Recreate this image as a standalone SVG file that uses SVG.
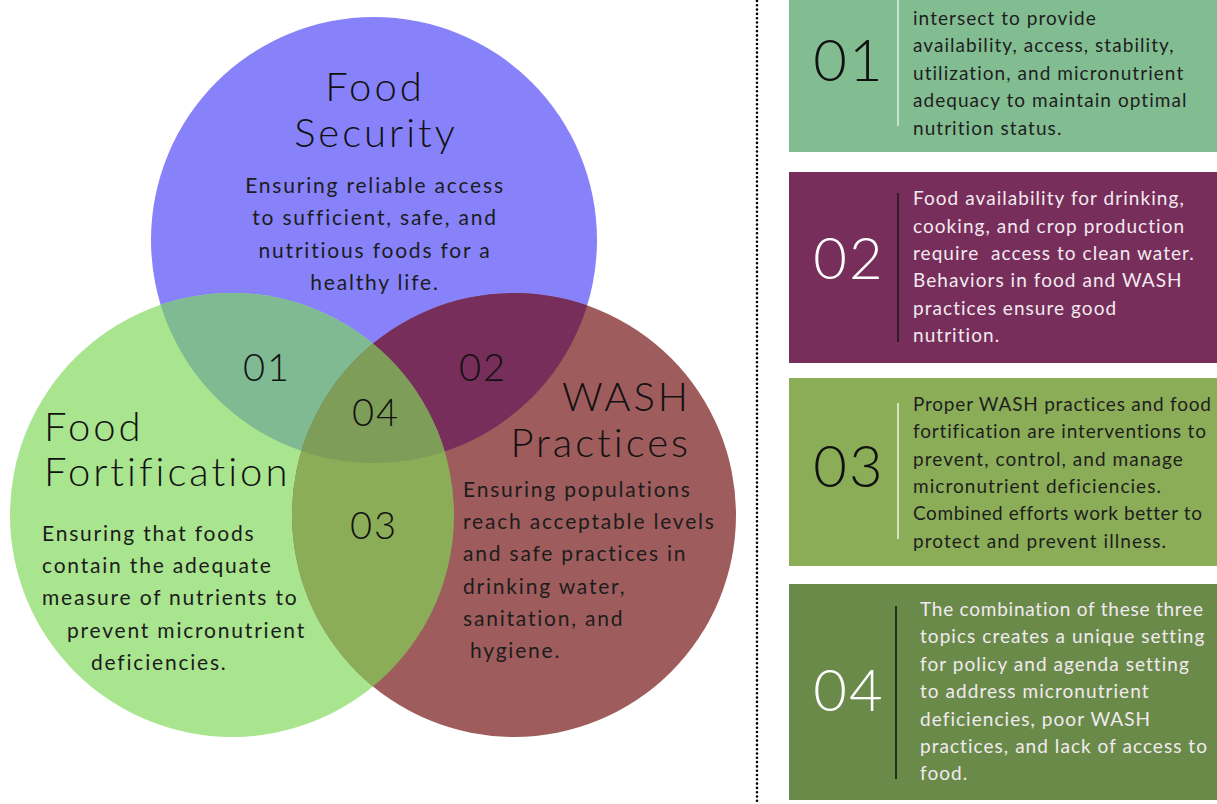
<svg xmlns="http://www.w3.org/2000/svg" width="1217" height="804" viewBox="0 0 1217 804">
  <style>
    .title { font-family: Lato, "Noto Sans", sans-serif; font-weight: 300; font-size: 40px; letter-spacing: 3px; fill: #111; }
    .body { font-family: Lato, "Noto Sans", sans-serif; font-size: 21px; letter-spacing: 1.8px; fill: #1c1c1c; }
    .num { font-family: Lato, "Noto Sans", sans-serif; font-weight: 300; font-size: 38px; letter-spacing: 2px; fill: #111; }
    .pnum { font-family: Lato, "Noto Sans", sans-serif; font-weight: 300; font-size: 58px; letter-spacing: 2px; }
    .ptext { font-family: Lato, "Noto Sans", sans-serif; font-size: 19px; letter-spacing: 1.05px; }
    .dark { fill: #1e1e1e; }
    .light { fill: #f2eaf0; }
  </style>
  <defs>
    <clipPath id="clipBlue"><circle cx="374" cy="240" r="223"/></clipPath>
    <clipPath id="clipGreen"><circle cx="232" cy="515" r="222"/></clipPath>
    <clipPath id="clipRed"><circle cx="514" cy="515" r="222"/></clipPath>
  </defs>
  <rect width="1217" height="804" fill="#ffffff"/>

  <!-- Venn diagram -->
  <g id="venn">
    <circle cx="374" cy="240" r="223" fill="#8782fa"/>
    <circle cx="232" cy="515" r="222" fill="#a9e48f"/>
    <circle cx="514" cy="515" r="222" fill="#9e5c5c"/>
    <!-- pairwise overlaps -->
    <g clip-path="url(#clipBlue)">
      <circle cx="232" cy="515" r="222" fill="#7fba92"/>
      <circle cx="514" cy="515" r="222" fill="#772e5a"/>
    </g>
    <g clip-path="url(#clipGreen)">
      <circle cx="514" cy="515" r="222" fill="#8bad58"/>
    </g>
    <!-- triple overlap -->
    <g clip-path="url(#clipGreen)">
      <g clip-path="url(#clipRed)">
        <circle cx="374" cy="240" r="223" fill="#7d9d58"/>
      </g>
    </g>
  </g>

  <g id="food-security">
    <text class="title" x="375" y="101" text-anchor="middle">Food</text>
    <text class="title" x="376" y="147" text-anchor="middle">Security</text>
    <text class="body" x="375" y="193" text-anchor="middle">Ensuring reliable access</text>
    <text class="body" x="375" y="225" text-anchor="middle">to sufficient, safe, and</text>
    <text class="body" x="375" y="258" text-anchor="middle">nutritious foods for a</text>
    <text class="body" x="375" y="290" text-anchor="middle">healthy life.</text>
  </g>

  <g id="food-fortification">
    <text class="title" x="44" y="441">Food</text>
    <text class="title" x="44" y="486">Fortification</text>
    <text class="body" x="42" y="541">Ensuring that foods</text>
    <text class="body" x="42" y="573">contain the adequate</text>
    <text class="body" x="42" y="605">measure of nutrients to</text>
    <text class="body" x="67" y="638">prevent micronutrient</text>
    <text class="body" x="91" y="670">deficiencies.</text>
  </g>

  <g id="wash-practices">
    <text class="title" x="691" y="411" text-anchor="end">WASH</text>
    <text class="title" x="691" y="457" text-anchor="end">Practices</text>
    <text class="body" x="463" y="497">Ensuring populations</text>
    <text class="body" x="463" y="529">reach acceptable levels</text>
    <text class="body" x="463" y="561">and safe practices in</text>
    <text class="body" x="463" y="594">drinking water,</text>
    <text class="body" x="463" y="626">sanitation, and</text>
    <text class="body" x="470" y="658">hygiene.</text>
  </g>

  <g id="overlap-labels">
    <text class="num" x="267" y="381" text-anchor="middle">01</text>
    <text class="num" x="483" y="381" text-anchor="middle">02</text>
    <text class="num" x="376" y="426" text-anchor="middle">04</text>
    <text class="num" x="374" y="539" text-anchor="middle">03</text>
  </g>

  <!-- dotted separator -->
  <g id="connectors">
    <line x1="757" y1="1" x2="757" y2="804" stroke="#000" stroke-width="2.6" stroke-linecap="round" stroke-dasharray="0 4.3"/>
  </g>

  <g id="panel-01">
    <rect x="789" y="0" width="428" height="152" fill="#82bd92"/>
    <line x1="898" y1="0" x2="898" y2="126" stroke="#e2eee2" stroke-width="1.5"/>
    <text class="pnum" x="849" y="81" text-anchor="middle" fill="#111">01</text>
    <text class="ptext dark" x="913" y="25">intersect to provide</text>
    <text class="ptext dark" x="913" y="52">availability, access, stability,</text>
    <text class="ptext dark" x="913" y="80">utilization, and micronutrient</text>
    <text class="ptext dark" x="913" y="107">adequacy to maintain optimal</text>
    <text class="ptext dark" x="913" y="135">nutrition status.</text>
  </g>

  <g id="panel-02">
    <rect x="789" y="172" width="428" height="191" fill="#772e5a"/>
    <line x1="898" y1="193" x2="898" y2="342" stroke="#1a1a1a" stroke-width="1.5"/>
    <text class="pnum" x="849" y="279" text-anchor="middle" fill="#ffffff">02</text>
    <text class="ptext light" x="913" y="205">Food availability for drinking,</text>
    <text class="ptext light" x="913" y="233">cooking, and crop production</text>
    <text class="ptext light" x="913" y="260" xml:space="preserve">require  access to clean water.</text>
    <text class="ptext light" x="913" y="287">Behaviors in food and WASH</text>
    <text class="ptext light" x="913" y="315">practices ensure good</text>
    <text class="ptext light" x="913" y="342">nutrition.</text>
  </g>

  <g id="panel-03">
    <rect x="789" y="378" width="428" height="188" fill="#8bad58"/>
    <line x1="898" y1="403" x2="898" y2="539" stroke="#f0f4e8" stroke-width="1.5"/>
    <text class="pnum" x="849" y="487" text-anchor="middle" fill="#111">03</text>
    <text class="ptext dark" x="913" y="411" textLength="299" lengthAdjust="spacing">Proper WASH practices and food</text>
    <text class="ptext dark" x="913" y="438" textLength="294" lengthAdjust="spacing">fortification are interventions to</text>
    <text class="ptext dark" x="913" y="466">prevent, control, and manage</text>
    <text class="ptext dark" x="913" y="493">micronutrient deficiencies.</text>
    <text class="ptext dark" x="913" y="520" textLength="290" lengthAdjust="spacing">Combined efforts work better to</text>
    <text class="ptext dark" x="913" y="548">protect and prevent illness.</text>
  </g>

  <g id="panel-04">
    <rect x="789" y="584" width="428" height="216" fill="#6a8a4a"/>
    <line x1="896" y1="606" x2="896" y2="779" stroke="#111" stroke-width="1.5"/>
    <text class="pnum" x="849" y="711" text-anchor="middle" fill="#ffffff">04</text>
    <text class="ptext light" x="920" y="616" textLength="284" lengthAdjust="spacing">The combination of these three</text>
    <text class="ptext light" x="920" y="643">topics creates a unique setting</text>
    <text class="ptext light" x="920" y="671">for policy and agenda setting</text>
    <text class="ptext light" x="920" y="698">to address micronutrient</text>
    <text class="ptext light" x="920" y="726">deficiencies, poor WASH</text>
    <text class="ptext light" x="920" y="753" textLength="288" lengthAdjust="spacing">practices, and lack of access to</text>
    <text class="ptext light" x="920" y="780">food.</text>
  </g>
</svg>
